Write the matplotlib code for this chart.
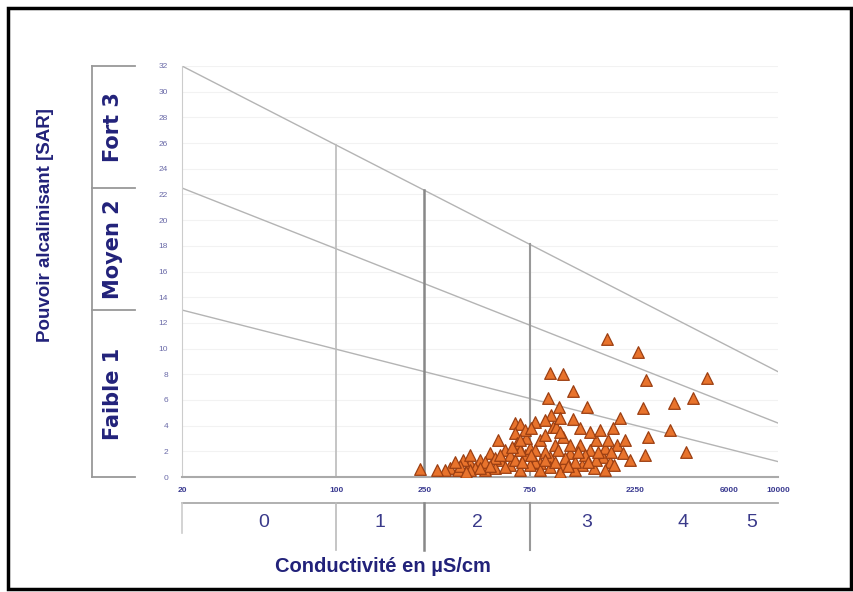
import numpy as np
import matplotlib
matplotlib.use('Agg')
import matplotlib.pyplot as plt
from matplotlib.patches import Rectangle

# conductivite (uS/cm) et SAR des echantillons
cond = [239, 1682, 2323, 928, 1062, 2525, 4766, 1180, 908, 4121,
        3381, 1020, 1365, 2447, 940, 1926, 1180, 644, 794, 679,
        1790, 3243, 2578, 2500, 3831, 957, 990, 1269, 644, 660,
        836, 1062, 1500, 1860, 1409, 1143, 1620, 928, 836, 1062,
        1300, 1740, 1980, 496, 447, 403, 375, 327, 355, 310,
        580, 551, 611, 715, 753, 794, 523, 470, 425, 679,
        836, 1030, 1200, 1470, 1640, 2137, 2029, 1269, 980, 880,
        1090, 1330, 1500, 1200, 880, 725, 611, 644, 523, 403,
        470, 580, 753, 928, 1409, 1563, 1640, 1143, 794, 679,
        363, 285, 715, 1030, 1760, 403, 1810, 880, 540, 980,
        385, 496, 551, 622, 690, 765, 880, 1009, 1120, 1240,
        1380, 1530, 1700, 765, 679, 447, 345, 1030]
sar = [0.6, 10.75, 9.7, 8.1, 8.0, 7.55, 7.7, 6.7, 6.15, 6.15,
       5.75, 5.45, 5.45, 5.4, 4.8, 4.6, 4.5, 4.2, 4.3, 4.1,
       3.8, 3.65, 3.1, 1.7, 1.95, 3.9, 3.9, 3.8, 3.4, 2.65,
       2.9, 3.1, 2.9, 2.5, 2.1, 1.85, 1.55, 1.55, 1.1, 0.95,
       0.95, 1.2, 1.85, 1.85, 1.3, 1.1, 1.3, 0.7, 0.55, 0.55,
       2.1, 1.3, 0.95, 1.7, 2.25, 1.15, 0.7, 0.55, 0.7, 0.55,
       0.55, 0.4, 0.55, 0.7, 0.55, 1.3, 2.9, 2.5, 2.5, 1.95,
       1.5, 1.7, 1.3, 1.15, 3.25, 3.05, 1.7, 1.3, 1.5, 1.7,
       1.15, 0.8, 0.95, 0.8, 3.5, 3.65, 2.25, 2.5, 2.1, 2.1,
       0.85, 0.55, 3.65, 3.5, 1.95, 0.55, 0.95, 4.4, 2.9, 1.15,
       0.4, 0.85, 1.7, 2.35, 1.15, 1.7, 1.3, 2.1, 0.85, 1.95,
       1.15, 1.95, 2.9, 3.8, 2.9, 0.7, 1.15, 4.6]

# limites des classes
line_x = [20, 10000]
sar_lines = [[32, 8.2], [22.5, 4.2], [13, 1.2]]
cond_limits = [100, 250, 750]
xticks = [20, 100, 250, 750, 2250, 6000, 10000]
yticks = list(range(0, 33, 2))
cond_classes = ['0', '1', '2', '3', '4', '5']
cond_class_pos = [47, 158, 437, 1365, 3715, 7620]
sar_classes = ['Fort 3', 'Moyen 2', 'Faible 1']
sar_class_bounds = [32, 22.5, 13, 0]

navy = '#22227a'
plt.rcParams['font.family'] = ['Liberation Sans', 'DejaVu Sans']

fig = plt.figure(figsize=(8.54, 5.92), dpi=100)
ax = fig.add_axes([182/854, 1-477/592, 596/854, 411/592])
ax.set_xscale('log')
ax.set_xlim(20, 10000)
ax.set_ylim(0, 32)

for t in yticks:
    ax.axhline(t, color='#f2f2f2', lw=0.8, zorder=0)

for sl in sar_lines:
    ax.plot(line_x, sl, color='#b4b4b4', lw=1, zorder=1)

top = sar_lines[0]
widths = [1.2, 1.8, 1.5]
cols = ['#bbbbbb', '#888888', '#999999']
for c, w, col in zip(cond_limits, widths, cols):
    ytop = np.interp(np.log10(c), np.log10(line_x), top)
    ax.plot([c, c], [0, ytop], color=col, lw=w, zorder=1)

ax.scatter(cond, sar, marker='^', s=70, facecolor='#e8732c',
           edgecolor='#9c3f12', linewidth=0.9, zorder=3)

for s in ['top', 'right']:
    ax.spines[s].set_visible(False)
ax.spines['left'].set_color('#cccccc')
ax.spines['bottom'].set_color('#aaaaaa')
ax.spines['bottom'].set_linewidth(1.5)
ax.set_xticks(xticks)
ax.set_xticklabels([str(v) for v in xticks])
ax.xaxis.set_minor_locator(matplotlib.ticker.NullLocator())
ax.set_yticks(yticks)
ax.tick_params(axis='x', length=0, pad=7, labelsize=6, labelcolor='#3a3a90')
ax.tick_params(axis='y', length=0, pad=10, labelsize=6, labelcolor='#6a6aa8')
for lab in ax.get_xticklabels():
    lab.set_fontweight('bold')

# classes SAR (gauche)
tr = ax.get_yaxis_transform()
ax.plot([-0.151, -0.151], [0, 32], color='#999999', lw=1.3, transform=tr, clip_on=False)
for b in sar_class_bounds:
    ax.plot([-0.151, -0.079], [b, b], color='#999999', lw=1.3, transform=tr, clip_on=False)
for i, name in enumerate(sar_classes):
    ym = (sar_class_bounds[i] + sar_class_bounds[i+1]) / 2
    ax.text(-0.116, ym, name, transform=tr, rotation=90, ha='center', va='center',
            fontsize=15, fontweight='bold', color=navy, family='DejaVu Sans')

# classes conductivite (bas)
trx = ax.get_xaxis_transform()
ax.plot([20, 10000], [-0.063, -0.063], color='#aaaaaa', lw=1.3, transform=trx, clip_on=False)
ax.plot([20, 20], [-0.063, -0.136], color='#cccccc', lw=1.2, transform=trx, clip_on=False)
for c, w, col in zip(cond_limits, widths, cols):
    ax.plot([c, c], [-0.063, -0.178], color=col, lw=w, transform=trx, clip_on=False)
for name, p in zip(cond_classes, cond_class_pos):
    ax.text(p, -0.11, name, transform=trx, ha='center', va='center',
            fontsize=14, color='#3a3a8a')

fig.text(383/854, 1-566/592, 'Conductivité en µS/cm', ha='center', va='center',
         fontsize=14.5, fontweight='bold', color=navy)
fig.text(46/854, 1-225/592, 'Pouvoir alcalinisant [SAR]', rotation=90, ha='center',
         va='center', fontsize=13.5, fontweight='bold', color=navy)

fig.patches.append(Rectangle((8/854, 3/592), 843/854, 581/592, transform=fig.transFigure,
                             fill=False, edgecolor='black', lw=2.5))

fig.savefig('out.png', dpi=100)
